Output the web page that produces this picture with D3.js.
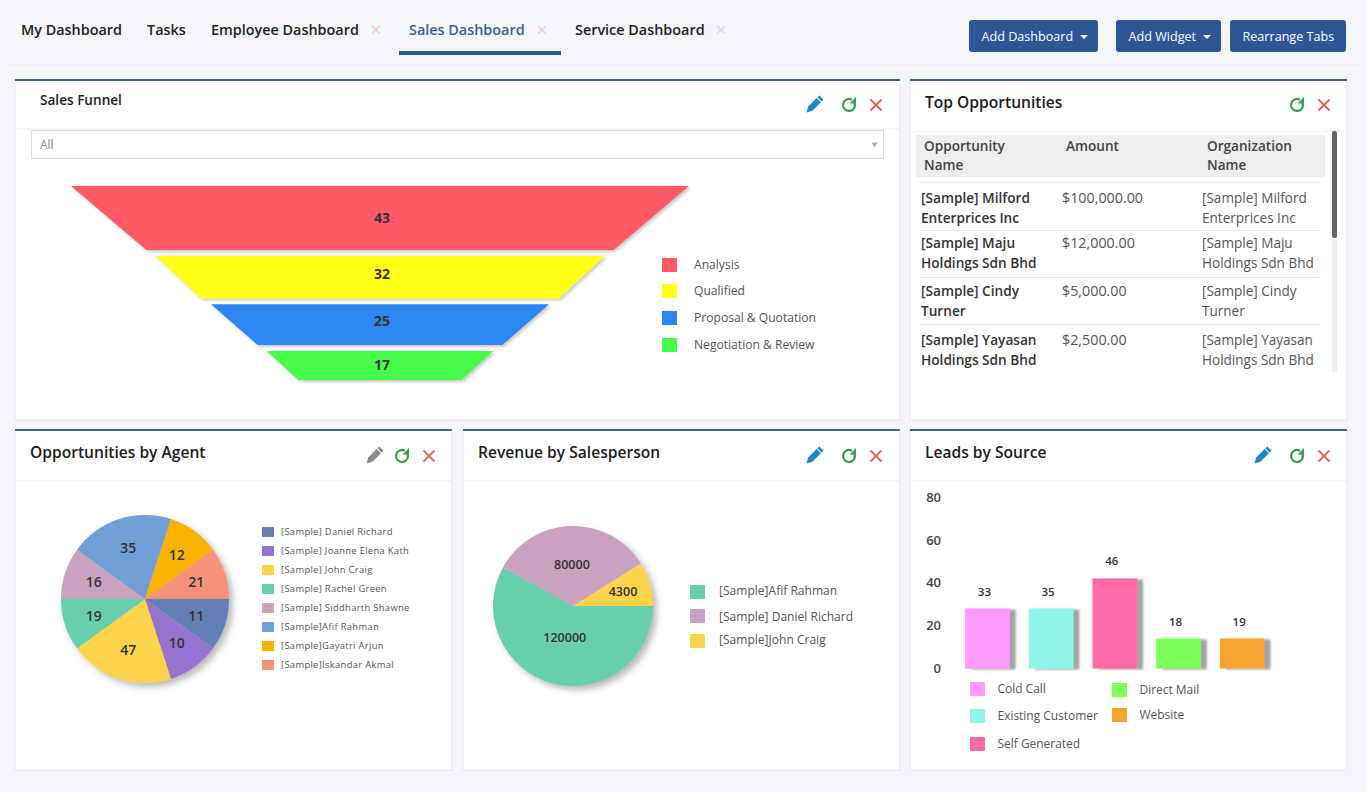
<!DOCTYPE html>
<html>
<head>
<meta charset="utf-8">
<title>Sales Dashboard</title>
<script src="https://cdn.jsdelivr.net/npm/d3@7"></script>
<style>
  html, body { margin: 0; padding: 0; background: #f4f6fa; overflow: hidden; }
  svg { display: block; font-family: "Open Sans", sans-serif; }
</style>
</head>
<body>
<svg id="dash" width="1366" height="792"></svg>
<script>
// funnel: widths are % of the top edge, depths are % of the plot height
const funnelStages = ["Analysis", "Qualified", "Proposal & Quotation", "Negotiation & Review"];
const funnelValues = [43, 32, 25, 17];
const funnelTopWidth = [100, 72.8, 54.7, 36.7];
const funnelBottomWidth = [75.6, 57.9, 39.6, 26.4];
const funnelDepth = [33, 22, 21, 15];
const funnelColors = ["#ff5a65", "#ffff14", "#2e86f0", "#47fb4b"];

const agentNames = ["[Sample] Daniel Richard", "[Sample] Joanne Elena Kath", "[Sample] John Craig", "[Sample] Rachel Green",
  "[Sample] Siddharth Shawne", "[Sample]Afif Rahman", "[Sample]Gayatri Arjun", "[Sample]Iskandar Akmal"];
const agentLabels = [11, 10, 47, 19, 16, 35, 12, 21];
// slice sizes as drawn, they do not follow the printed labels
const agentShares = [1, 1, 2, 1, 1, 2, 1, 1];
const agentColors = ["#6280b6", "#9673cf", "#fbd44c", "#67cfae", "#c9a2c0", "#729fd6", "#f8b300", "#f6927a"];

const revenueNames = ["[Sample]Afif Rahman", "[Sample] Daniel Richard", "[Sample]John Craig"];
const revenueLabels = [120000, 80000, 4300];
const revenueShares = [209, 119, 32];
const revenueColors = ["#67cfae", "#c9a2c0", "#fbd44c"];

const sourceNames = ["Cold Call", "Existing Customer", "Self Generated", "Direct Mail", "Website"];
const sourceLabels = [33, 35, 46, 18, 19];
// bar heights read against the axis
const sourceBars = [28, 28, 42, 14, 14];
const sourceTicks = [0, 20, 40, 60, 80];
const sourceColors = ["#ff99ff", "#8ff5e8", "#ff69a8", "#7cff5a", "#f5a433"];

const tabNames = ["My Dashboard", "Tasks", "Employee Dashboard", "Sales Dashboard", "Service Dashboard"];
const buttonNames = ["Add Dashboard", "Add Widget", "Rearrange Tabs"];
const tableHeads = [["Opportunity", "Name"], ["Amount"], ["Organization", "Name"]];
const tableNames = [["[Sample] Milford", "Enterprices Inc"], ["[Sample] Maju", "Holdings Sdn Bhd"],
  ["[Sample] Cindy", "Turner"], ["[Sample] Yayasan", "Holdings Sdn Bhd"]];
const tableAmounts = ["$100,000.00", "$12,000.00", "$5,000.00", "$2,500.00"];

const BLUE = "#2f5597";
const svg = d3.select("#dash");

const defs = svg.append("defs");
function shadow(id, dx, dy, blur, op) {
  defs.append("filter").attr("id", id)
    .attr("x", "-20%").attr("y", "-20%").attr("width", "140%").attr("height", "140%")
    .append("feDropShadow")
    .attr("dx", dx).attr("dy", dy).attr("stdDeviation", blur)
    .attr("flood-color", "#666").attr("flood-opacity", op);
}
shadow("funnelShadow", 2, 2, 1.5, 0.35);
shadow("pieShadow", 4, 4, 3, 0.45);
shadow("barShadow", 6, 1, 1, 0.6);

function label(g, x, y, str, size, fill, weight) {
  return g.append("text").attr("x", x).attr("y", y).attr("dy", "0.35em")
    .attr("font-size", size).attr("fill", fill).attr("font-weight", weight || 400).text(str);
}

/* ---------- top bar ---------- */
svg.append("line").attr("x1", 8).attr("x2", 1358).attr("y1", 65).attr("y2", 65).attr("stroke", "#e9ebf0");

const tabX = [21, 147, 211, 409, 575];
const tabClose = [null, null, 376, 542, 721];
tabNames.forEach((t, i) => {
  label(svg, tabX[i], 30, t, 14.4, i == 3 ? "#3d5f9b" : "#222", 600);
  if (tabClose[i]) label(svg, tabClose[i], 30, "×", 20, "#f0cdd2").attr("text-anchor", "middle");
});
svg.append("rect").attr("x", 399).attr("y", 51).attr("width", 162).attr("height", 4).attr("fill", BLUE);

const btnX = [969, 1116, 1230];
const btnW = [129, 105, 116];
buttonNames.forEach((t, i) => {
  svg.append("rect").attr("x", btnX[i]).attr("y", 20).attr("width", btnW[i]).attr("height", 32)
    .attr("rx", 3).attr("fill", BLUE);
  label(svg, btnX[i] + 12.5, 36.5, t, 12.6, "#fff");
  if (i < 2) {
    const cx = btnX[i] + btnW[i] - 14;
    svg.append("path").attr("d", `M${cx - 4},35 h8 l-4,4 z`).attr("fill", "#fff");
  }
});

/* ---------- cards ---------- */
const cards = [
  { x: 15, y: 80, w: 885, h: 340, sep: 129, title: "Sales Funnel", tx: 40, ty: 100, size: 13.6, pencil: 814, redo: 849, close: 876, iy: 105 },
  { x: 910, y: 80, w: 437, h: 340, sep: 131, title: "Top Opportunities", tx: 925, ty: 103, size: 15.6, redo: 1297, close: 1324, iy: 105 },
  { x: 15, y: 430, w: 437, h: 340, sep: 481, title: "Opportunities by Agent", tx: 30, ty: 453, size: 15.6, pencil: 374, pencilColor: "#8a8a8a", redo: 402, close: 429, iy: 456 },
  { x: 463, y: 430, w: 437, h: 340, sep: 481, title: "Revenue by Salesperson", tx: 478, ty: 453, size: 15.6, pencil: 814, redo: 849, close: 876, iy: 456 },
  { x: 910, y: 430, w: 437, h: 340, sep: 481, title: "Leads by Source", tx: 925, ty: 453, size: 15.6, pencil: 1262, redo: 1297, close: 1324, iy: 456 }
];

function pencil(x, y, color) {
  const g = svg.append("g").attr("transform", `translate(${x},${y}) rotate(45)`).attr("fill", color);
  g.append("path").attr("d", "M-3,-10.5 h6 v2.6 h-6 z");
  g.append("path").attr("d", "M-3,-6.8 h6 v12 l-3,5.4 l-3,-5.4 z");
}
function redo(x, y) {
  const p = d3.path();
  p.arc(x, y, 6, -0.5, -Math.PI * 0.25 + Math.PI * 2 - 0.3);
  svg.append("path").attr("d", p.toString()).attr("fill", "none").attr("stroke", "#3a9a45").attr("stroke-width", 2.2);
  svg.append("path").attr("d", `M${x + 7},${y - 8} v6.5 h-6.5 z`).attr("fill", "#3a9a45");
}
function closeX(x, y) {
  svg.append("path").attr("d", `M${x - 5.5},${y - 5.5} L${x + 5.5},${y + 5.5} M${x + 5.5},${y - 5.5} L${x - 5.5},${y + 5.5}`)
    .attr("stroke", "#d9656a").attr("stroke-width", 1.9).attr("fill", "none");
}

cards.forEach(c => {
  svg.append("rect").attr("x", c.x).attr("y", c.y).attr("width", c.w).attr("height", c.h)
    .attr("fill", "#fff").attr("stroke", "#e2e5ec");
  svg.append("rect").attr("x", c.x).attr("y", c.y - 1).attr("width", c.w).attr("height", 2).attr("fill", "#3f5f9f");
  svg.append("line").attr("x1", c.x + 1).attr("x2", c.x + c.w - 1).attr("y1", c.sep).attr("y2", c.sep).attr("stroke", "#eaeaea");
  label(svg, c.tx, c.ty, c.title, c.size, "#1c1c1c", 600);
  if (c.pencil) pencil(c.pencil, c.iy, c.pencilColor || "#1a8ac6");
  redo(c.redo, c.iy);
  closeX(c.close, c.iy);
});

/* ---------- sales funnel ---------- */
svg.append("rect").attr("x", 31.5).attr("y", 130.5).attr("width", 852).attr("height", 28)
  .attr("fill", "#fff").attr("stroke", "#dcdcdc");
label(svg, 40, 145, "All", 12, "#888");
svg.append("path").attr("d", "M871.5,142.5 h6 l-3,5 z").attr("fill", "#aaa");

const fx = d3.scaleLinear().domain([-50, 50]).range([71, 689]);
const fy = d3.scaleLinear().domain([0, 100]).range([186, 380]);
const funnelGap = 3;
const funnelLabelNudge = [0, -3, -4, 0];
let fTop = 0;
const funnelG = svg.append("g");
funnelStages.forEach((s, i) => {
  const y0 = fTop, y1 = fTop + funnelDepth[i];
  fTop = y1 + funnelGap;
  const t = funnelTopWidth[i] / 2, b = funnelBottomWidth[i] / 2;
  const pts = [[-t, y0], [t, y0], [b, y1], [-b, y1]];
  funnelG.append("path")
    .attr("d", d3.line().x(d => fx(d[0])).y(d => fy(d[1]))(pts) + "Z")
    .attr("fill", funnelColors[i]).attr("filter", "url(#funnelShadow)");
  label(funnelG, fx(0) + 2, fy((y0 + y1) / 2) + funnelLabelNudge[i], funnelValues[i], 14, "#333", 700).attr("text-anchor", "middle");
});

const funnelLegendY = [265, 291, 318, 345];
funnelStages.forEach((s, i) => {
  svg.append("rect").attr("x", 662).attr("y", funnelLegendY[i] - 7).attr("width", 15).attr("height", 14).attr("fill", funnelColors[i]);
  label(svg, 694, funnelLegendY[i], s, 12.1, "#555");
});

/* ---------- top opportunities table ---------- */
svg.append("rect").attr("x", 916).attr("y", 135).attr("width", 409).attr("height", 42).attr("fill", "#eeeeee");
const headX = [924, 1066, 1207];
tableHeads.forEach((h, i) => h.forEach((t, j) => label(svg, headX[i], 146 + j * 19.5, t, 13.6, "#444", 600)));
svg.append("rect").attr("x", 1332).attr("y", 131).attr("width", 5).attr("height", 241).attr("fill", "#f0f0f0");
svg.append("rect").attr("x", 1332).attr("y", 131).attr("width", 5).attr("height", 107).attr("rx", 2).attr("fill", "#666");

const ruleY = [183, 231, 278, 325];
const rowY = [198, 243, 291, 340];
tableNames.forEach((n, i) => {
  svg.append("line").attr("x1", 920).attr("x2", 1319).attr("y1", ruleY[i] - 0.5).attr("y2", ruleY[i] - 0.5).attr("stroke", "#e6e6e6");
  n.forEach((t, j) => {
    label(svg, 921, rowY[i] + j * 20, t, 13.65, "#333", 600);
    label(svg, 1202, rowY[i] + j * 20, t, 13.55, "#555");
  });
  label(svg, 1062, rowY[i], tableAmounts[i], 14.3, "#555");
});

/* ---------- pies ---------- */
function drawPie(cx, cy, r, shares, colors, labels, labelR, size) {
  const g = svg.append("g").attr("transform", `translate(${cx},${cy})`);
  const slices = d3.pie().sort(null).startAngle(Math.PI / 2).endAngle(Math.PI * 2.5)(shares);
  const arc = d3.arc().innerRadius(0).outerRadius(r);
  const wrap = g.append("g").attr("filter", "url(#pieShadow)");
  wrap.selectAll("path").data(slices).enter().append("path")
    .attr("d", arc).attr("fill", (d, i) => colors[i]);
  slices.forEach((d, i) => {
    const rr = labelR[i];
    const c = d3.arc().innerRadius(rr).outerRadius(rr).centroid(d);
    label(g, c[0], c[1], labels[i], size, "#333", 600).attr("text-anchor", "middle");
  });
}
drawPie(145, 599, 84, agentShares, agentColors, agentLabels, agentLabels.map(() => 54), 14);
drawPie(573, 606, 80, revenueShares, revenueColors, revenueLabels, [33, 41, 52], 12.5);

agentNames.forEach((n, i) => {
  const y = 532 + i * 19;
  svg.append("rect").attr("x", 262).attr("y", y - 5).attr("width", 12).attr("height", 10).attr("fill", agentColors[i]);
  label(svg, 281, y, n, 9.4, "#555").attr("letter-spacing", 0.32);
});

const revLegendY = [592, 616, 641];
const revTextY = [591, 617, 640];
revenueNames.forEach((n, i) => {
  svg.append("rect").attr("x", 690).attr("y", revLegendY[i] - 7).attr("width", 15).attr("height", 14).attr("fill", revenueColors[i]);
  label(svg, 719, revTextY[i], n, 12.05, "#555");
});

/* ---------- leads by source ---------- */
const barX = d3.scaleBand().domain(sourceNames).range([946, 1283.6]).paddingInner(0.3).paddingOuter(0.3);
const barY = d3.scaleLinear().domain([0, 80]).range([668.5, 497]);

const yAxis = svg.append("g").attr("transform", "translate(941,0)")
  .call(d3.axisLeft(barY).tickValues(sourceTicks).tickSize(0).tickPadding(0));
yAxis.select(".domain").remove();
yAxis.selectAll("text").attr("font-size", 13).attr("font-family", "Open Sans").attr("font-weight", 600).attr("fill", "#444");

svg.append("g").selectAll("rect").data(sourceNames).enter().append("rect")
  .attr("x", d => barX(d))
  .attr("y", (d, i) => barY(sourceBars[i]))
  .attr("width", barX.bandwidth())
  .attr("height", (d, i) => barY(0) - barY(sourceBars[i]))
  .attr("fill", (d, i) => sourceColors[i])
  .attr("filter", "url(#barShadow)");

sourceNames.forEach((n, i) => {
  label(svg, barX(n) + barX.bandwidth() / 2 - 3, barY(sourceBars[i]) - 17, sourceLabels[i], 11.5, "#333", 600)
    .attr("text-anchor", "middle");
});

const srcLegendX = [970, 970, 970, 1112, 1112];
const srcLegendY = [689, 716, 744, 690, 715];
sourceNames.forEach((n, i) => {
  svg.append("rect").attr("x", srcLegendX[i]).attr("y", srcLegendY[i] - 7).attr("width", 15).attr("height", 14).attr("fill", sourceColors[i]);
  label(svg, srcLegendX[i] + 27.5, srcLegendY[i], n, 11.95, "#555");
});
</script>
</body>
</html>
